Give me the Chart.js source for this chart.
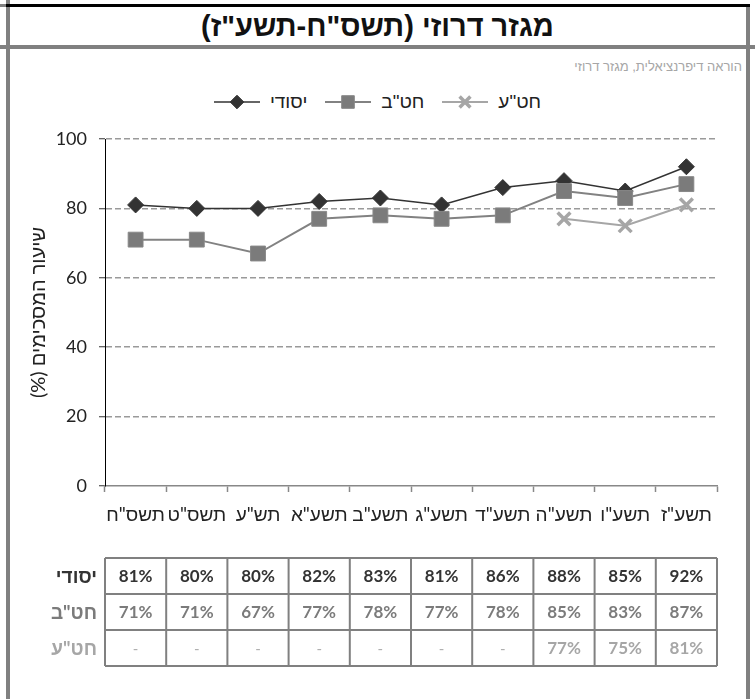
<!DOCTYPE html>
<html>
<head>
<meta charset="utf-8">
<script src="https://cdn.jsdelivr.net/npm/chart.js@4.4.0/dist/chart.umd.min.js"></script>
<style>
  body { margin: 0; background: #fff; font-family: 'Liberation Sans', Arial, sans-serif; }
  #page { position: relative; width: 755px; height: 699px; overflow: hidden; background: #fff; }
  .rule { position: absolute; }
  #title { position: absolute; left: 9px; top: 8px; width: 737px; height: 37px; line-height: 37px;
    text-align: center; font-weight: bold; font-size: 29px; color: #111; }
  #subtitle { position: absolute; right: 13px; top: 59px; font-size: 13px; color: #a6a6a6; }
  #legend { position: absolute; left: 0; top: 92px; width: 755px; margin: 0; padding: 0;
    list-style: none; display: flex; justify-content: center; gap: 18px; }
  #legend li { display: flex; align-items: center; font-size: 19px; color: #222; height: 20px; }
  #legend canvas { margin-right: 10px; }
  #chart { position: absolute; left: 0; top: 0; direction: rtl; }
</style>
</head>
<body>
<div id="page">
  <div class="rule" style="left:6px;top:0;width:4px;height:699px;background:#808080"></div>
  <div class="rule" style="left:0;top:4px;width:6px;height:3px;background:#808080"></div>
  <div class="rule" style="left:6px;top:4px;width:744px;height:3px;background:#000"></div>
  <div class="rule" style="left:0;top:45px;width:755px;height:4px;background:#808080"></div>
  <div class="rule" style="left:746px;top:7px;width:4px;height:692px;background:#808080"></div>
  <div id="title" dir="rtl">מגזר דרוזי (תשס"ח-תשע"ז)</div>
  <div id="subtitle" dir="rtl">הוראה דיפרנציאלית, מגזר דרוזי</div>
  <ul id="legend"></ul>
  <canvas id="chart" width="755" height="699"></canvas>
</div>
<script>
// Chart data
const years = ['תשס"ח', 'תשס"ט', 'תש"ע', 'תשע"א', 'תשע"ב', 'תשע"ג', 'תשע"ד', 'תשע"ה', 'תשע"ו', 'תשע"ז'];
const seriesNames = ['יסודי', 'חט"ב', 'חט"ע'];
const yesodi = [81, 80, 80, 82, 83, 81, 86, 88, 85, 92];
const hatab = [71, 71, 67, 77, 78, 77, 78, 85, 83, 87];
const hatae = [null, null, null, null, null, null, null, 77, 75, 81];
const yTicks = [0, 20, 40, 60, 80, 100];

const FONT = "Lato, 'Liberation Sans', sans-serif";

// Legend built in HTML, one swatch canvas per dataset
const htmlLegend = {
  id: 'htmlLegend',
  afterUpdate(c, args, options) {
    const ul = document.getElementById(options.containerID);
    if (!ul) return;
    while (ul.firstChild) {
      ul.firstChild.remove();
    }
    c.data.datasets.forEach((ds) => {
      const li = document.createElement('li');
      const sw = document.createElement('canvas');
      sw.width = 46;
      sw.height = 18;
      const g = sw.getContext('2d');
      g.strokeStyle = ds.borderColor;
      g.lineWidth = ds.borderWidth;
      g.beginPath();
      g.moveTo(0, 9);
      g.lineTo(46, 9);
      g.stroke();
      g.fillStyle = ds.pointBackgroundColor;
      g.strokeStyle = ds.pointBorderColor;
      g.lineWidth = ds.pointBorderWidth;
      Chart.helpers.drawPoint(g, {
        pointStyle: ds.pointStyle,
        radius: ds.pointRadius * 0.85,
        borderWidth: ds.pointBorderWidth,
        rotation: 0,
      }, 23, 9);
      const label = document.createElement('span');
      label.dir = 'rtl';
      label.textContent = ds.label;
      li.appendChild(sw);
      li.appendChild(label);
      ul.appendChild(li);
    });
  },
};

// Data table under the x axis, columns follow the category scale
const dataTable = {
  id: 'dataTable',
  afterDraw(c, args, opts) {
    const { ctx } = c;
    const x = c.scales.x;
    const colW = (x.right - x.left) / years.length;
    const top = opts.top;
    const rowH = opts.rowHeight;
    ctx.save();
    ctx.textBaseline = 'middle';
    c.data.datasets.forEach((ds, r) => {
      const cy = top + rowH * r + rowH / 2;
      ctx.fillStyle = opts.colors[r];
      ctx.font = 'bold 19px ' + FONT;
      ctx.textAlign = 'right';
      ctx.fillText(ds.label, x.left - 8, cy + 1);
      ctx.textAlign = 'center';
      ds.data.forEach((v, i) => {
        const cx = x.getPixelForValue(i);
        if (v == null) {
          ctx.font = '15px ' + FONT;
          ctx.fillStyle = '#b0b0b0';
          ctx.fillText('-', cx, cy + 1);
        } else {
          ctx.font = 'bold 17px ' + FONT;
          ctx.fillStyle = opts.colors[r];
          ctx.fillText(v + '%', cx, cy + 1);
        }
      });
    });
    // cell borders
    const rows = c.data.datasets.length;
    ctx.strokeStyle = '#808080';
    ctx.lineWidth = 2;
    ctx.beginPath();
    for (let r = 0; r <= rows; r++) {
      ctx.moveTo(x.left, top + rowH * r);
      ctx.lineTo(x.right, top + rowH * r);
    }
    for (let i = 0; i <= years.length; i++) {
      const px = x.left + colW * i;
      ctx.moveTo(px, top);
      ctx.lineTo(px, top + rowH * rows);
    }
    ctx.stroke();
    ctx.restore();
  },
};

const chart = new Chart(document.getElementById('chart'), {
  type: 'line',
  data: {
    labels: years,
    datasets: [
      {
        label: seriesNames[0],
        data: yesodi,
        borderColor: '#333333',
        borderWidth: 1.5,
        pointStyle: 'rectRot',
        pointRadius: 8,
        pointHoverRadius: 8,
        pointBackgroundColor: '#333333',
        pointBorderColor: '#333333',
        pointBorderWidth: 1,
        order: 2,
      },
      {
        label: seriesNames[1],
        data: hatab,
        borderColor: '#828282',
        borderWidth: 2,
        pointStyle: 'rect',
        pointRadius: 10.5,
        pointHoverRadius: 10.5,
        pointBackgroundColor: '#7b7b7b',
        pointBorderColor: '#888888',
        pointBorderWidth: 1,
        order: 1,
      },
      {
        label: seriesNames[2],
        data: hatae,
        borderColor: '#a6a6a6',
        borderWidth: 2,
        pointStyle: 'crossRot',
        pointRadius: 9,
        pointHoverRadius: 9,
        pointBackgroundColor: '#a6a6a6',
        pointBorderColor: '#a6a6a6',
        pointBorderWidth: 3.5,
        order: 0,
      },
    ],
  },
  options: {
    responsive: false,
    animation: false,
    layout: {
      padding: { left: 0, right: 38, top: 139, bottom: 168 },
    },
    plugins: {
      legend: { display: false },
      tooltip: { enabled: false },
      htmlLegend: { containerID: 'legend' },
      dataTable: { top: 558, rowHeight: 36, colors: ['#333333', '#7b7b7b', '#a6a6a6'] },
    },
    scales: {
      x: {
        offset: true,
        afterFit: (s) => { s.height = 45; },
        grid: {
          offset: true,
          drawOnChartArea: false,
          tickLength: 6,
          tickColor: '#888',
          tickWidth: 1.5,
        },
        border: { color: '#888', width: 1.5 },
        ticks: {
          color: '#222',
          font: { size: 19, family: FONT },
          padding: 11,
          maxRotation: 0,
          autoSkip: false,
        },
      },
      y: {
        min: 0,
        max: 100,
        afterFit: (s) => { s.width = 105; },
        afterBuildTicks: (s) => { s.ticks = yTicks.map((v) => ({ value: v })); },
        ticks: {
          color: '#222',
          font: { size: 18, family: FONT },
          padding: 12,
        },
        grid: {
          color: (ctx) => (ctx.tick && ctx.tick.value === 0 ? 'rgba(0,0,0,0)' : '#9a9a9a'),
          lineWidth: 1.5,
          tickLength: 6,
          tickColor: '#333',
          tickWidth: 1,
        },
        border: { color: '#000', width: 1, dash: [6, 3] },
        title: {
          display: true,
          text: 'שיעור המסכימים (%)',
          color: '#222',
          font: { size: 20, family: FONT },
          padding: { top: 27, bottom: 0 },
        },
      },
    },
  },
  plugins: [htmlLegend, dataTable],
});
</script>
</body>
</html>
